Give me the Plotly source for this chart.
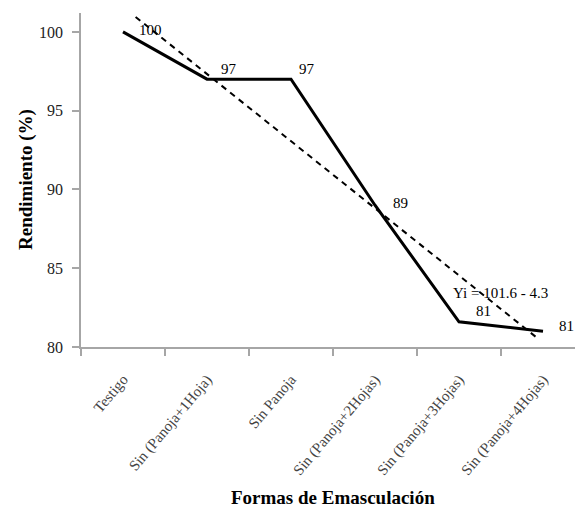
import numpy as np
import plotly.graph_objects as go

categories = ["Testigo", "Sin (Panoja+1Hoja)", "Sin Panoja", "Sin (Panoja+2Hojas)",
              "Sin (Panoja+3Hojas)", "Sin (Panoja+4Hojas)"]
rendimiento = [100, 97, 97, 89, 81.6, 81]
point_labels = ["100", "97", "97", "89", "81", "81"]
y_ticks = [80, 85, 90, 95, 100]
equation_text = "Yi = 101.6 - 4.3"
trend_x_span = [1.15, 5.95]

x = np.arange(1, len(categories) + 1)
slope, intercept = np.polyfit(x, rendimiento, 1)
tx = np.array(trend_x_span)
ty = intercept + slope * tx

serif = "Liberation Serif, Times New Roman, serif"
axis_col = "#a6a6a6"

fig = go.Figure()
fig.add_trace(go.Scatter(x=tx, y=ty, mode="lines",
                         line=dict(color="black", width=2, dash="6px,5px"),
                         showlegend=False, hoverinfo="skip"))
fig.add_trace(go.Scatter(x=x, y=rendimiento, mode="lines",
                         line=dict(color="black", width=3),
                         showlegend=False))

label_shift = [(14, 2), (12, 10), (6, 10), (16, 2), (15, 11), (14, 5)]
for xi, yi, t, (dx, dy) in zip(x, rendimiento, point_labels, label_shift):
    fig.add_annotation(x=xi, y=yi, text=t, showarrow=False, xanchor="left",
                       yanchor="middle", xshift=dx, yshift=dy,
                       font=dict(family=serif, size=15, color="black"))
fig.add_annotation(x=5.49, y=83.1, text=equation_text, showarrow=False,
                   xanchor="center", yanchor="middle", yshift=5,
                   font=dict(family=serif, size=15, color="black"))

# axis titles (paper coords relative to the plot area: 81..583 x 13..347 page px)
fig.add_annotation(x=(26 - 81) / 502, y=(347 - 180) / 334, xref="paper", yref="paper",
                   text="<b>Rendimiento (%)</b>", showarrow=False, textangle=-90,
                   xanchor="center", yanchor="middle",
                   font=dict(family=serif, size=19, color="black"))
fig.add_annotation(x=(333 - 81) / 502, y=-(497 - 347) / 334, xref="paper", yref="paper",
                   text="<b>Formas de Emasculación</b>", showarrow=False,
                   xanchor="center", yanchor="middle",
                   font=dict(family=serif, size=19, color="black"))

# page has an 8px body margin, so the figure is offset by 8px
fig.update_layout(
    width=575, height=501,
    margin=dict(l=73, r=0, t=5, b=162, autoexpand=False),
    plot_bgcolor="white", paper_bgcolor="white",
    showlegend=False,
    xaxis=dict(
        range=[0.5, 6.476], tickmode="array", tickvals=list(x), ticktext=categories,
        tickangle=-50, ticks="", showgrid=False, zeroline=False, automargin=False,
        ticklabelstandoff=16,
        showline=True, linecolor=axis_col, linewidth=1.5,
        tickfont=dict(family=serif, size=15, color="#444444"),
        minor=dict(tickmode="array", tickvals=[0.5, 1.5, 2.5, 3.5, 4.5, 5.5, 6.5],
                   ticks="outside", ticklen=7, tickcolor=axis_col, tickwidth=1.5),
    ),
    yaxis=dict(
        range=[80, 101.2], tickmode="array", tickvals=y_ticks, automargin=False,
        ticks="outside", ticklen=7, tickcolor=axis_col, tickwidth=1.5,
        ticklabelstandoff=6,
        showgrid=False, zeroline=False, showline=True, linecolor=axis_col, linewidth=1.5,
        tickfont=dict(family=serif, size=16, color="#222222"),
    ),
)
fig.write_html("out.html")
